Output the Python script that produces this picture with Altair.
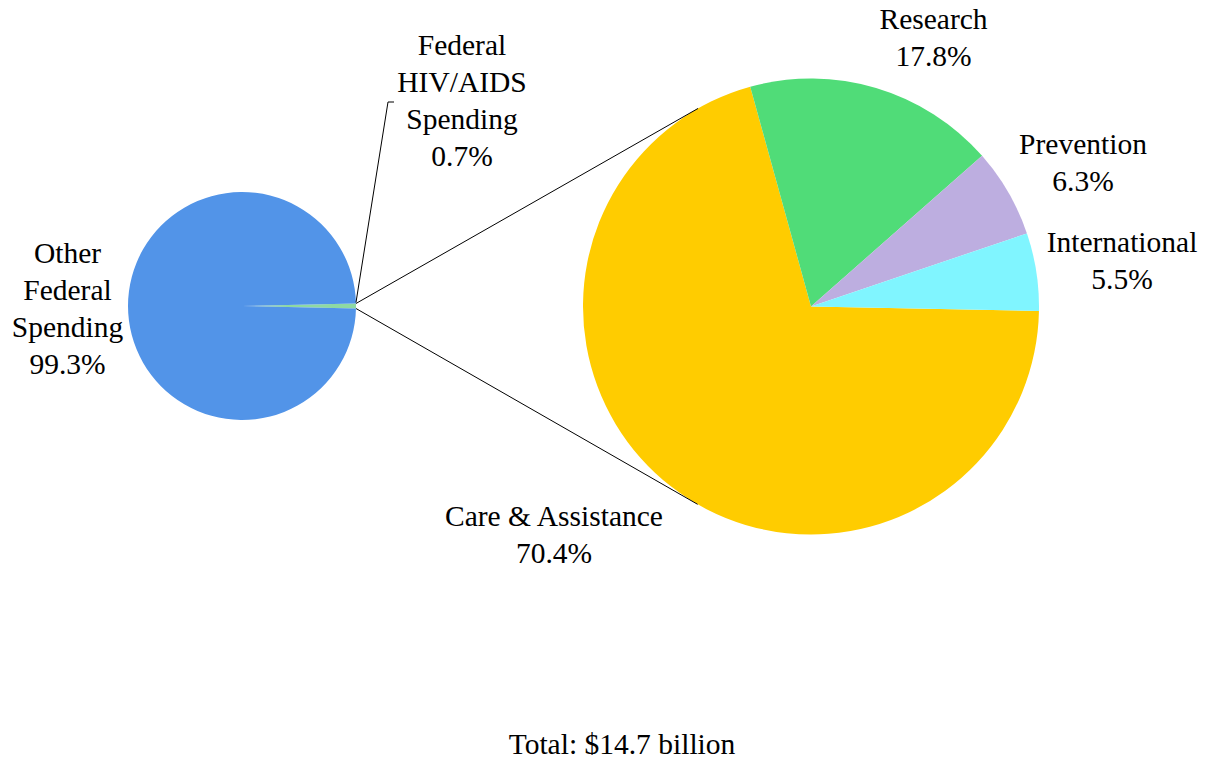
import math
import altair as alt
import pandas as pd

# ---- data ----
outer_categories = ["Federal HIV/AIDS Spending", "Other Federal Spending"]
outer_values = [0.7, 99.3]
inner_categories = ["Care & Assistance", "Research", "Prevention", "International"]
inner_values = [70.4, 17.8, 6.3, 5.5]
total_label = "Total: $14.7 billion"

# ---- styles / layout ----
outer_colors = ["#8ED9A2", "#5294E8"]
inner_colors = ["#FFCC00", "#50DC78", "#BDAEE0", "#80F5FF"]
FONT = "Liberation Serif"
FS = 29.5
LH = 37

W, H = 1190, 747
sx, sy, sr = 234, 298, 114      # small pie centre / radius
bx, by, br = 803, 298.5, 228    # big pie centre / radius

# small pie: HIV slice centred at 3 o'clock
hiv_frac = outer_values[0] / sum(outer_values)
s_start = math.pi / 2 - hiv_frac * math.pi
# big pie start angle
b_start = 1.59

outer_df = pd.DataFrame({"cat": outer_categories, "val": outer_values,
                         "ord": list(range(len(outer_values)))})
inner_df = pd.DataFrame({"cat": inner_categories, "val": inner_values,
                         "ord": list(range(len(inner_values)))})

small_pie = alt.Chart(outer_df).mark_arc(stroke=None).encode(
    theta=alt.Theta("val:Q", stack=True,
                    scale=alt.Scale(range=[s_start, s_start + 2 * math.pi])),
    color=alt.Color("cat:N", scale=alt.Scale(domain=outer_categories, range=outer_colors), legend=None),
    order=alt.Order("ord:Q"),
    x=alt.value(sx), y=alt.value(sy), radius=alt.value(sr),
)

big_pie = alt.Chart(inner_df).mark_arc(stroke=None).encode(
    theta=alt.Theta("val:Q", stack=True,
                    scale=alt.Scale(range=[b_start, b_start + 2 * math.pi])),
    color=alt.Color("cat:N", scale=alt.Scale(domain=inner_categories, range=inner_colors), legend=None),
    order=alt.Order("ord:Q"),
    x=alt.value(bx), y=alt.value(by), radius=alt.value(br),
)

# connector lines: from the HIV slice edges, tangent to the big pie
def tangent_pt(px, py, sign):
    d = math.hypot(bx - px, by - py)
    phi = math.acos(br / d)
    base = math.atan2(py - by, px - bx)
    a = base + sign * phi
    return bx + br * math.cos(a), by + br * math.sin(a)

half = hiv_frac * math.pi
top_pt = (sx + sr * math.cos(-half), sy + sr * math.sin(-half))
bot_pt = (sx + sr * math.cos(half), sy + sr * math.sin(half))
t1 = tangent_pt(*top_pt, 1)
t2 = tangent_pt(*bot_pt, -1)
elbow = (380, 94)
seg_rows = [
    dict(x=top_pt[0], y=top_pt[1], x2=t1[0], y2=t1[1]),
    dict(x=bot_pt[0], y=bot_pt[1], x2=t2[0], y2=t2[1]),
    dict(x=top_pt[0], y=top_pt[1] - 1, x2=elbow[0], y2=elbow[1]),
    dict(x=elbow[0], y=elbow[1], x2=elbow[0] + 6, y2=elbow[1]),
]
seg_df = pd.DataFrame(seg_rows)
lines = alt.Chart(seg_df).mark_rule(color="black", strokeWidth=1).encode(
    x=alt.X("x:Q", scale=None), y=alt.Y("y:Q", scale=None),
    x2="x2:Q", y2="y2:Q",
)

# labels (y = centre of the first line)
label_texts = [
    "Federal\nHIV/AIDS\nSpending\n0.7%",
    "Other\nFederal\nSpending\n99.3%",
    "Research\n17.8%",
    "Prevention\n6.3%",
    "International\n5.5%",
    "Care & Assistance\n70.4%",
    total_label,
]
label_x = [454, 59.5, 925.5, 1075, 1114, 546, 614]
label_y = [38, 246, 12, 137, 235, 509, 737]
lab_df = pd.DataFrame({"t": label_texts, "x": label_x, "y": label_y})
labels = alt.Chart(lab_df).mark_text(
    font=FONT, fontSize=FS, lineBreak="\n", lineHeight=LH,
    align="center", baseline="middle", color="black",
).encode(x=alt.X("x:Q", scale=None), y=alt.Y("y:Q", scale=None), text="t:N")

chart = alt.layer(small_pie, big_pie, lines, labels).resolve_scale(
    theta="independent", color="independent"
).properties(
    width=W, height=H, autosize=alt.AutoSizeParams(type="none"), padding=0,
).configure_view(stroke=None)

chart.save("out.html", embed_options={"renderer": "svg", "actions": False})
